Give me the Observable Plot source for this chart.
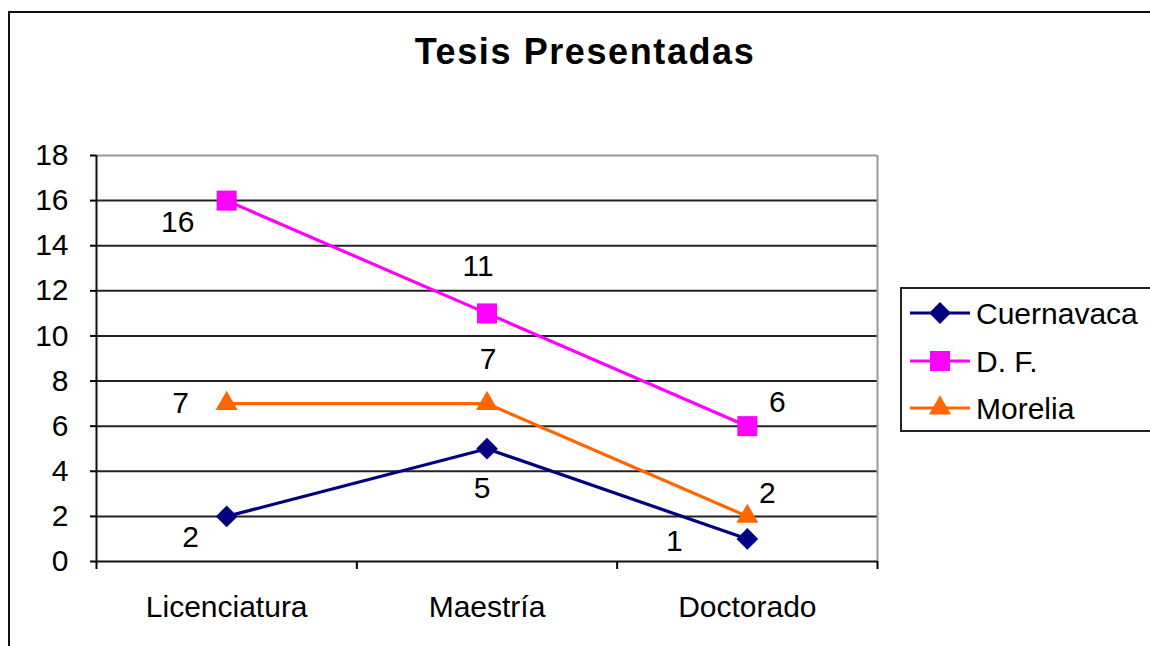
<!DOCTYPE html>
<html>
<head>
<meta charset="utf-8">
<script src="https://cdn.jsdelivr.net/npm/d3@7"></script>
<script src="https://cdn.jsdelivr.net/npm/@observablehq/plot@0.6"></script>
<style>
  html, body { margin: 0; padding: 0; }
  body { width: 1150px; height: 646px; overflow: hidden; background: #fff; position: relative;
         font-family: "Liberation Sans", Arial, sans-serif; color: #000; }
  #frame { position: absolute; left: 8px; top: 11px; width: 1200px; height: 700px; border: 2px solid #111; box-sizing: border-box; }
  #title { position: absolute; left: 335px; width: 500px; top: 34px; line-height: 36px; text-align: center;
           font-size: 36px; font-weight: bold; letter-spacing: 1.6px; }
  #chart { position: absolute; left: 0; top: 0; }
  #legend { position: absolute; left: 900px; top: 287px; }
</style>
</head>
<body>
<div id="frame"></div>
<div id="title">Tesis Presentadas</div>
<div id="chart"></div>
<div id="legend"></div>
<script>
// ---- data ----
const categories = ["Licenciatura", "Maestría", "Doctorado"];
const seriesNames = ["Cuernavaca", "D. F.", "Morelia"];
const cuernavaca = [2, 5, 1];
const df = [16, 11, 6];
const morelia = [7, 7, 2];
const yTicks = [0, 2, 4, 6, 8, 10, 12, 14, 16, 18];

// ---- styles ----
const colors = { "Cuernavaca": "#000080", "D. F.": "#FF00FF", "Morelia": "#FF6600" };
const symbols = { "Cuernavaca": "diamond2", "D. F.": "square", "Morelia": "triangle" };
const radii = { "Cuernavaca": 9.8, "D. F.": 11.3, "Morelia": 8.2 };
// label offsets (dx, dy) per series per category
const labelOffsets = {
  "Cuernavaca": [[-36, 21], [-5, 40], [-73, 2]],
  "D. F.": [[-49, 22], [-9, -47], [30, -24]],
  "Morelia": [[-46, 0], [1, -44], [20, -23]]
};

const valuesBySeries = { "Cuernavaca": cuernavaca, "D. F.": df, "Morelia": morelia };
const rows = [];
seriesNames.forEach(s => {
  categories.forEach((c, i) => rows.push({ series: s, category: c, idx: i, x: i + 0.5, value: valuesBySeries[s][i] }));
});

const marks = [
  Plot.ruleY(yTicks.filter(t => t > 0 && t < 18), { stroke: "#222", strokeWidth: 2 }),
  Plot.ruleY([18], { stroke: "#999", strokeWidth: 2 }),
  Plot.ruleX([3], { stroke: "#999", strokeWidth: 2 }),
  Plot.axisY({ ticks: yTicks, tickSize: 6, tickPadding: 22, strokeWidth: 2, tickFormat: d => String(d), label: null }),
  Plot.axisX({ ticks: [0, 1, 2, 3], tickSize: 8, tickFormat: () => "", strokeWidth: 2, label: null }),
  Plot.axisX({ ticks: [0.5, 1.5, 2.5], tickSize: 0, tickPadding: 34, tickFormat: d => categories[Math.floor(d)], label: null }),
  Plot.ruleX([0], { stroke: "#111", strokeWidth: 2 }),
  Plot.ruleY([0], { stroke: "#111", strokeWidth: 2 })
];

seriesNames.forEach(s => {
  const data = rows.filter(r => r.series === s);
  marks.push(Plot.line(data, { x: "x", y: "value", stroke: colors[s], strokeWidth: 3.2 }));
  marks.push(Plot.dot(data, { x: "x", y: "value", symbol: symbols[s], r: radii[s], fill: colors[s], stroke: "none" }));
});
rows.forEach(r => {
  const [dx, dy] = labelOffsets[r.series][r.idx];
  marks.push(Plot.text([r], { x: "x", y: "value", text: d => String(d.value), dx, dy, fill: "#000", textAnchor: "middle", lineAnchor: "middle" }));
});

const chart = Plot.plot({
  width: 1150,
  height: 646,
  marginLeft: 96,
  marginRight: 273,
  marginTop: 155,
  marginBottom: 85,
  x: { type: "linear", domain: [0, 3], label: null },
  y: { type: "linear", domain: [0, 18], label: null },
  style: { fontFamily: "'Liberation Sans', Arial, sans-serif", fontSize: "30px", color: "#000", background: "transparent", overflow: "visible" },
  marks
});
document.getElementById("chart").appendChild(chart);

// ---- legend ----
const lg = d3.select("#legend").append("svg").attr("width", 260).attr("height", 145)
  .style("font-family", "'Liberation Sans', Arial, sans-serif").style("font-size", "30px");
lg.append("rect").attr("x", 1).attr("y", 1).attr("width", 270).attr("height", 143)
  .attr("fill", "#fff").attr("stroke", "#222").attr("stroke-width", 2);
const rowY = [26, 74, 121];
const d3sym = { "diamond2": d3.symbolDiamond2, "square": d3.symbolSquare, "triangle": d3.symbolTriangle };
seriesNames.forEach((s, i) => {
  const g = lg.append("g").attr("transform", `translate(0,${rowY[i]})`);
  g.append("line").attr("x1", 10).attr("x2", 70).attr("y1", 0).attr("y2", 0).attr("stroke", colors[s]).attr("stroke-width", 3.2);
  const r = radii[s];
  g.append("path").attr("transform", "translate(40,0)")
    .attr("d", d3.symbol(d3sym[symbols[s]], r * r * Math.PI)()).attr("fill", colors[s]);
  g.append("text").attr("x", 76).attr("y", 11).attr("fill", "#000").text(s);
});
</script>
</body>
</html>
